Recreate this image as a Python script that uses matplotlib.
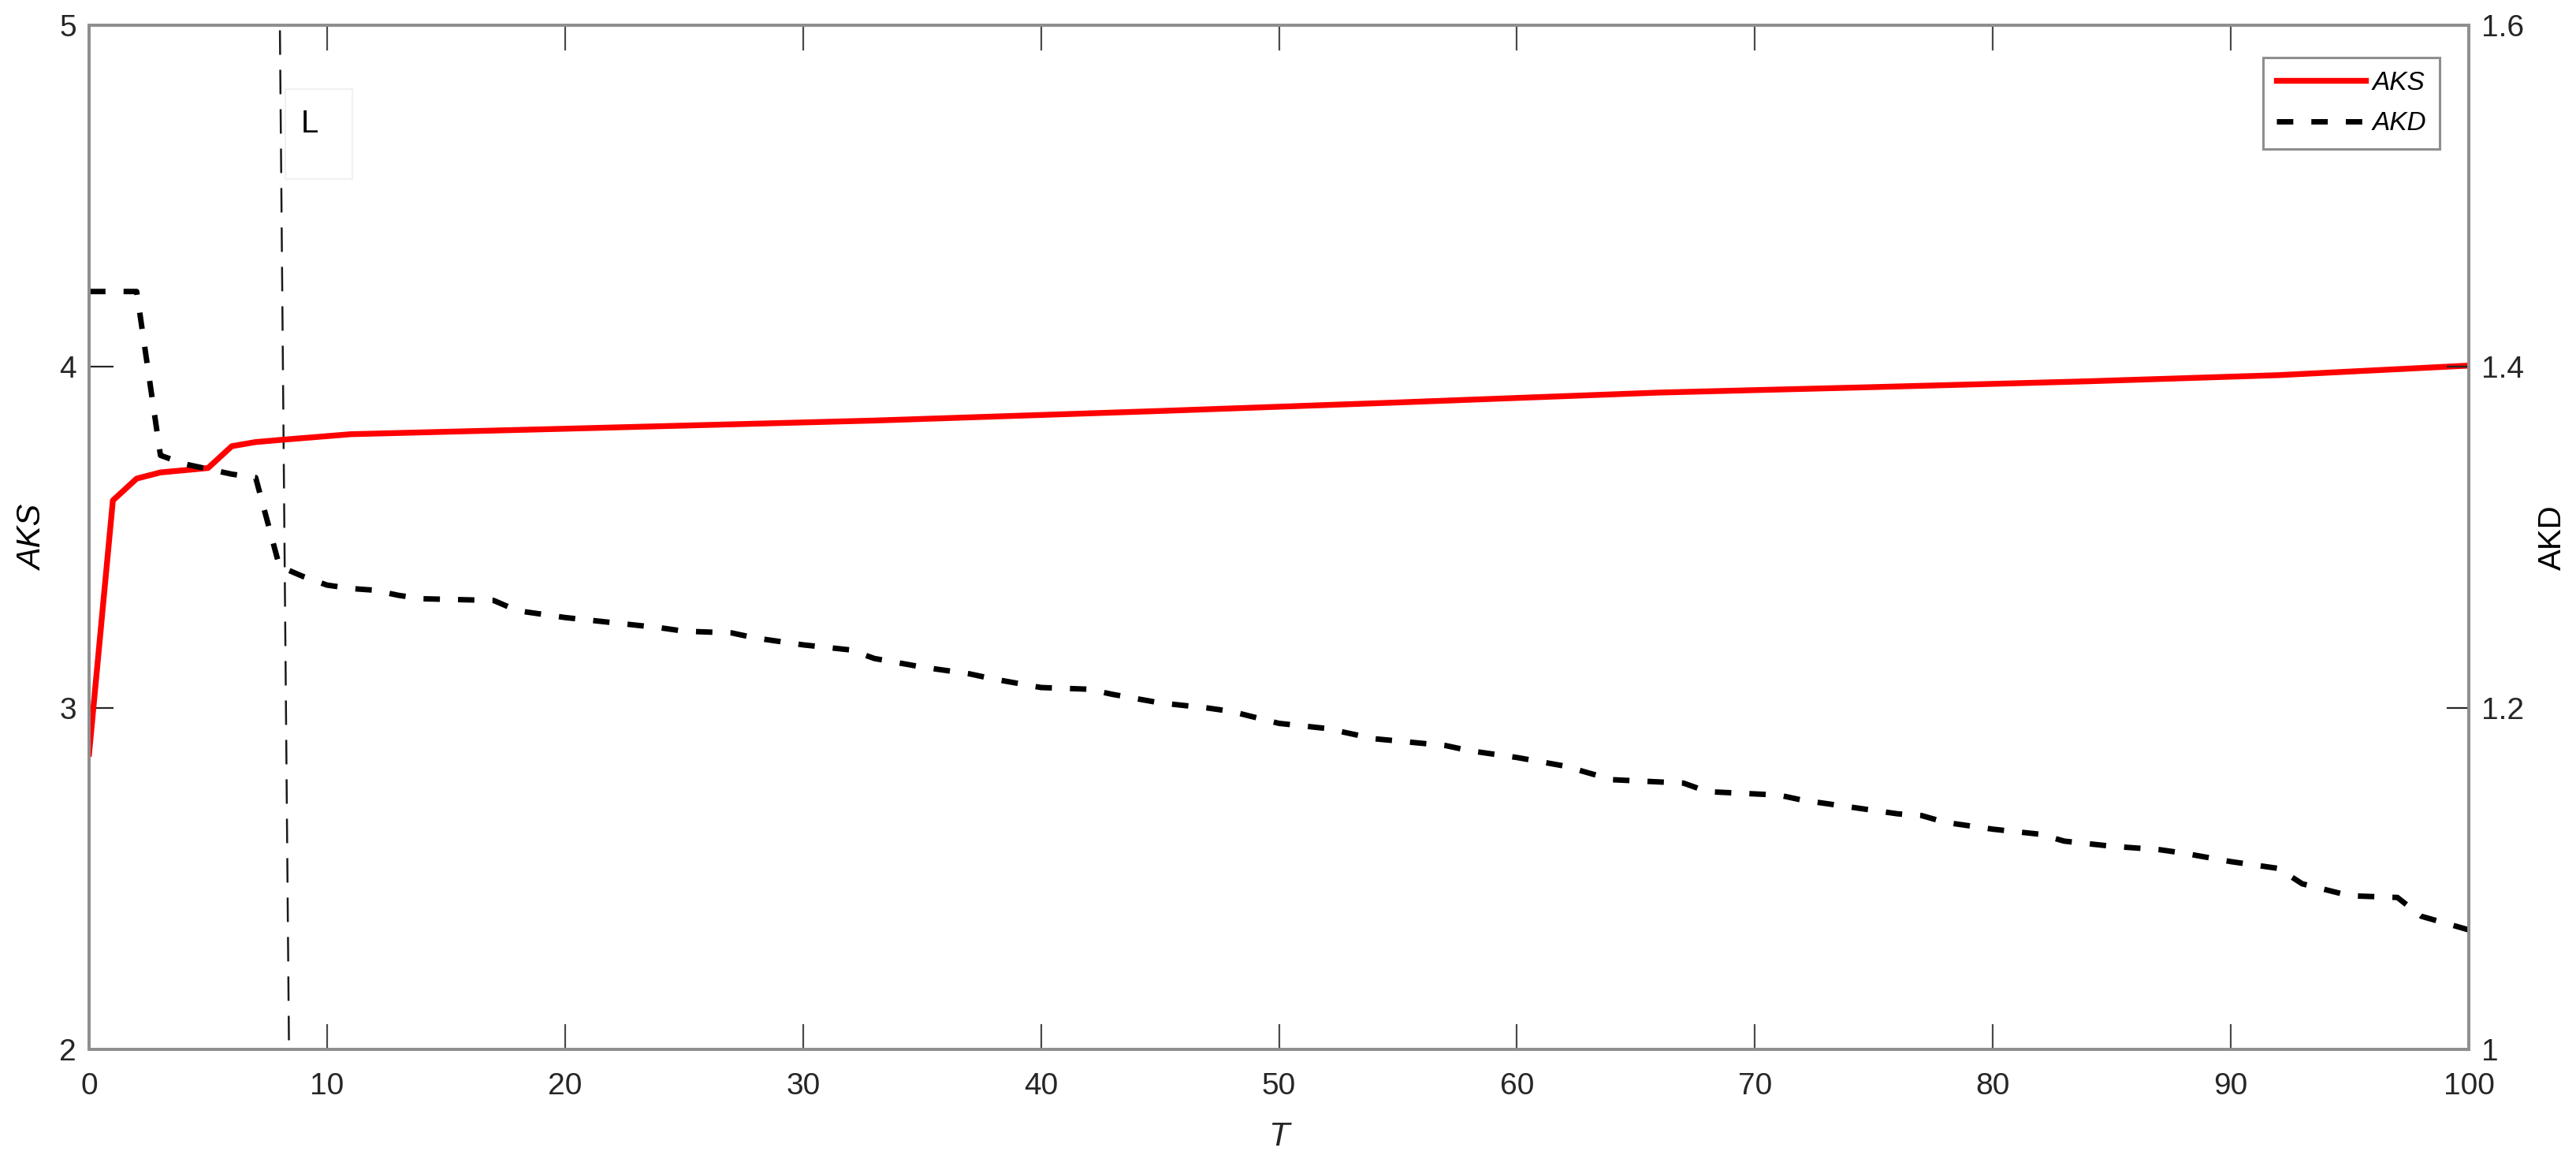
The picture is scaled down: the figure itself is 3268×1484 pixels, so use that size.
import numpy as np
import matplotlib
matplotlib.use("Agg")
import matplotlib.pyplot as plt
from matplotlib.patches import Rectangle

plt.rcParams['font.family'] = ['Liberation Sans', 'DejaVu Sans']

# AKS (left axis)
t_aks = [0, 1, 2, 3, 5, 6, 7, 8, 11, 20, 33, 45, 55, 66, 75, 84, 92, 100]
aks = [2.866, 3.608, 3.672, 3.690, 3.703, 3.767, 3.779, 3.785, 3.802, 3.818,
       3.842, 3.870, 3.895, 3.924, 3.940, 3.957, 3.975, 4.003]

# AKD (right axis)
t_akd = [0, 2, 3, 4, 5, 6, 7, 8, 9, 10, 11, 12, 13, 14, 17, 18, 19, 20, 22, 24,
         25, 27, 28, 30, 32, 33, 35, 37, 38, 40, 42, 43, 45, 47, 48, 50, 52, 54,
         57, 58, 60, 62, 63, 64, 67, 68, 71, 72, 74, 76, 77, 78, 80, 82, 83, 85,
         87, 88, 90, 92, 93, 95, 97, 98, 100]
akd = [1.444, 1.444, 1.348, 1.343, 1.340, 1.337, 1.335, 1.283, 1.277, 1.272,
       1.270, 1.269, 1.266, 1.264, 1.263, 1.257, 1.255, 1.253, 1.250, 1.247,
       1.245, 1.244, 1.241, 1.237, 1.234, 1.229, 1.224, 1.220, 1.217, 1.212,
       1.211, 1.208, 1.203, 1.200, 1.198, 1.191, 1.188, 1.182, 1.178, 1.175,
       1.171, 1.166, 1.162, 1.158, 1.156, 1.151, 1.149, 1.146, 1.142, 1.138,
       1.137, 1.133, 1.129, 1.126, 1.122, 1.119, 1.117, 1.115, 1.110, 1.106,
       1.097, 1.090, 1.089, 1.078, 1.070]

# marker line "L" (slightly slanted)
l_line_t = [8.02, 8.40]
l_line_aks = [4.985, 2.01]

x_ticks = list(range(0, 101, 10))
aks_ticks = [2, 3, 4, 5]
akd_ticks = [1.0, 1.2, 1.4, 1.6]
akd_ticklabels = ['1', '1.2', '1.4', '1.6']

W, H = 3268, 1484
fig = plt.figure(figsize=(W / 100, H / 100), dpi=100)
ax = fig.add_axes([113 / W, 1 - 1331 / H, (3132 - 113) / W, (1331 - 32) / H])
ax2 = ax.twinx()

spine_c = '#8f8f8f'
for a in (ax, ax2):
    for s in a.spines.values():
        s.set_color(spine_c)
        s.set_linewidth(2.8)

ln1, = ax.plot(t_aks, aks, color='#ff0000', lw=5.3, label='AKS', zorder=3)
ax.plot(l_line_t, l_line_aks, color='#1a1a1a', lw=1.8, dashes=(12.4, 7.6), zorder=2)
ln2, = ax2.plot(t_akd, akd, color='black', lw=5, dashes=(3.0, 3.3), label='AKD')

ax.set_xlim(0, 100)
ax.set_ylim(2, 5)
ax2.set_ylim(1.0, 1.6)
ax.set_xticks(x_ticks)
ax.set_yticks(aks_ticks)
ax2.set_yticks(akd_ticks)
ax2.set_yticklabels(akd_ticklabels)

ax.tick_params(axis='x', direction='in', top=True, length=23, width=1.6,
               color='#4a4a4a', labelsize=28, labelcolor='#262626', pad=21)
ax.tick_params(axis='y', direction='in', length=22, width=1.6,
               color='#262626', labelsize=28, labelcolor='#262626', pad=11.5)
ax2.tick_params(axis='y', direction='in', length=20, width=1.6,
                color='#262626', labelsize=28, labelcolor='#262626', pad=11.5)

# "L" textbox
ax.add_patch(Rectangle((8.25, 4.55), 2.81, 0.263, fill=False, ec='#eeeeee', lw=1.2))
ax.text(8.9, 4.711, 'L', fontsize=29, color='black', ha='left', va='center')

fig.text(42 / W, 1 - 682 / H, 'AKS', rotation=90, fontsize=30, style='italic',
         ha='center', va='center', color='black')
fig.text(3238 / W, 1 - 682 / H, 'AKD', rotation=90, fontsize=29,
         ha='center', va='center', color='black')
fig.text(1622 / W, 1 - 1442 / H, 'T', fontsize=31, style='italic',
         ha='center', va='center', color='#262626')

leg = ax2.legend([ln1, ln2], ['AKS', 'AKD'], loc='upper right',
                 bbox_to_anchor=(3095 / W, 1 - 73 / H), bbox_transform=fig.transFigure,
                 borderaxespad=0, fancybox=False, framealpha=1, edgecolor=spine_c,
                 prop={'size': 24, 'style': 'italic'}, handlelength=3.4,
                 handletextpad=0.25, borderpad=0.5, labelspacing=0.62)
leg.get_frame().set_linewidth(2.2)

fig.savefig('out.png', dpi=100)
